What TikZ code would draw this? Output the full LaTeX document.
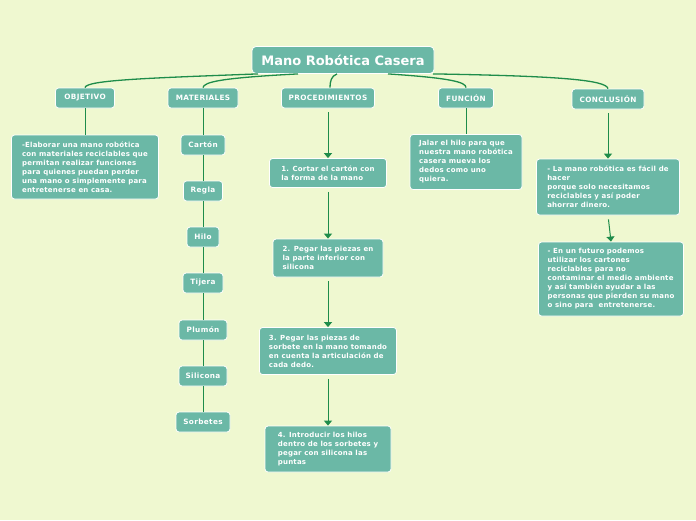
\documentclass[tikz,border=0pt]{standalone}
\usepackage{fontspec}
\setmainfont{DejaVu Sans}
\usetikzlibrary{arrows.meta}
\definecolor{bgc}{HTML}{EFF8D0}
\definecolor{boxc}{HTML}{6BB8A6}
\definecolor{linec}{HTML}{1E8C4A}
\tikzset{
  box/.style={rectangle, rounded corners=3pt, fill=boxc, draw=white, line width=0.8pt, text=white, inner ysep=3pt, inner xsep=4pt},
  smallf/.style={font=\bfseries\addfontfeature{LetterSpace=3}\fontsize{7}{9}\selectfont},
  lblf/.style={font=\bfseries\addfontfeature{LetterSpace=5}\fontsize{7.3}{9}\selectfont},
  lbl/.style={box, lblf, minimum height=20pt, minimum width=#1, align=center, inner xsep=1pt},
  tbox/.style={box, smallf, minimum width=#1, align=left},
  link/.style={draw=linec, line width=1.3pt},
  conn/.style={draw=linec, line width=1pt},
  arr/.style={conn, shorten <=4pt, -{Triangle[width=8pt,length=5pt]}}
}
\begin{document}
\begin{tikzpicture}[x=1pt,y=-1pt]
\fill[bgc] (0,0) rectangle (696,520);
\useasboundingbox (0,0) rectangle (696,520);

\node[box, font=\bfseries\fontsize{13}{15}\selectfont, minimum width=182pt, minimum height=27pt, rounded corners=4pt] (title) at (343,60) {Mano Robótica Casera};

\node[lbl=59pt] (obj) at (85,98) {OBJETIVO};
\node[lbl=70pt] (mat) at (203,98) {MATERIALES};
\node[lbl=93pt] (proc) at (328,98) {PROCEDIMIENTOS};
\node[lbl=55pt] (fun) at (466,98) {FUNCIÓN};
\node[lbl=72pt] (con) at (608,99) {CONCLUSIÓN};

\node[tbox=147pt, minimum height=64pt] (objt) at (85,167) {-Elaborar una mano robótica\\con materiales reciclables que\\permitan realizar funciones\\para quienes puedan perder\\una mano o simplemente para\\entretenerse en casa.};

\node[lbl=44pt] (m1) at (203,145) {Cartón};
\node[lbl=39pt] (m2) at (203,191) {Regla};
\node[lbl=32pt] (m3) at (203,237) {Hilo};
\node[lbl=40pt] (m4) at (203,283) {Tijera};
\node[lbl=48pt] (m5) at (203,330) {Plumón};
\node[lbl=48pt] (m6) at (203,376) {Silicona};
\node[lbl=54pt] (m7) at (203,422) {Sorbetes};

\node[tbox=117pt, minimum height=29pt] (p1) at (328,173) {1. Cortar el cartón con\\la forma de la mano};
\node[tbox=110pt, minimum height=38pt] (p2) at (328,258) {2. Pegar las piezas en\\la parte inferior con\\silicona};
\node[tbox=137pt, minimum height=47pt] (p3) at (328,351) {3. Pegar las piezas de\\sorbete en la mano tomando\\en cuenta la articulación de\\cada dedo.};
\node[tbox=126pt, minimum height=46pt] (p4) at (328,449) {4. Introducir los hilos\\dentro de los sorbetes y\\pegar con silicona las\\puntas};

\node[tbox=112pt, minimum height=55pt] (funt) at (466,162) {Jalar el hilo para que\\nuestra mano robótica\\casera mueva los\\dedos como uno\\quiera.};

\node[tbox=143pt, minimum height=56pt] (c1) at (608,187) {- La mano robótica es fácil de\\hacer\\porque solo necesitamos\\reciclables y así poder\\ahorrar dinero.};
\node[tbox=145pt, minimum height=74pt] (c2) at (611,279) {- En un futuro podemos\\utilizar los cartones\\reciclables para no\\contaminar el medio ambiente\\y así también ayudar a las\\personas que pierden su mano\\o sino para\ \ entretenerse.};

% top links
\draw[link] ([xshift=-85pt]title.south) .. controls (150,78) and (86,80) .. (obj.north);
\draw[link] ([xshift=-45pt]title.south) .. controls (220,78) and (204,82) .. (mat.north);
\draw[link] ([xshift=-6pt]title.south) .. controls (331,76) and (330,82) .. ([xshift=2pt]proc.north);
\draw[link] ([xshift=45pt]title.south) .. controls (450,78) and (466,82) .. (fun.north);
\draw[link] ([xshift=90pt]title.south) .. controls (560,76) and (606,80) .. (con.north);

% vertical
\draw[conn] (obj) -- (objt);
\draw[conn] (mat) -- (m1);
\draw[conn] (m1) -- (m2);
\draw[conn] (m2) -- (m3);
\draw[conn] (m3) -- (m4);
\draw[conn] (m4) -- (m5);
\draw[conn] (m5) -- (m6);
\draw[conn] (m6) -- (m7);
\draw[conn] (fun) -- (funt);

\draw[arr] (proc) -- (p1);
\draw[arr] (p1) -- (p2);
\draw[arr] (p2) -- (p3);
\draw[arr] (p3) -- (p4);
\draw[arr] (con) -- (c1);
\draw[arr] (c1.south) -- (c2.north);
\end{tikzpicture}
\end{document}
